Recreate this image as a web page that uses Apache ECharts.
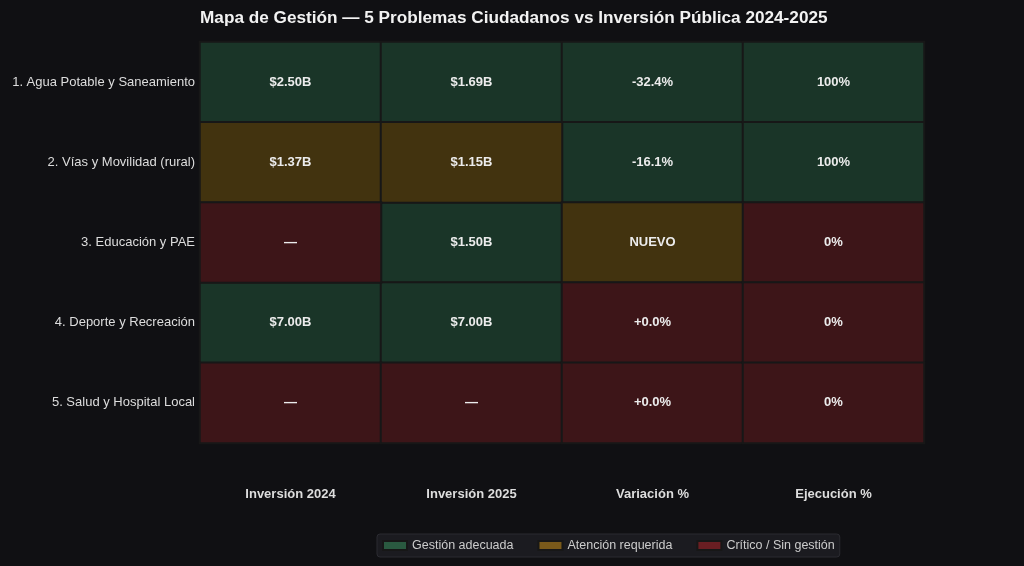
<!DOCTYPE html>
<html>
<head>
<meta charset="utf-8">
<script src="https://cdn.jsdelivr.net/npm/echarts@6/dist/echarts.min.js"></script>
<style>
    html, body { margin: 0; padding: 0; background: #101013; }
    #chart { width: 1024px; height: 566px; }
</style>
</head>
<body>
<div id="chart"></div>
<script>
// filas (problemas) y columnas (indicadores)
var problemas = ['1. Agua Potable y Saneamiento', '2. Vías y Movilidad (rural)', '3. Educación y PAE', '4. Deporte y Recreación', '5. Salud y Hospital Local'];
var columnas = ['Inversión 2024', 'Inversión 2025', 'Variación %', 'Ejecución %'];

// valores por columna (miles de millones / %), null = sin dato
var inversion2024 = [2.50, 1.37, null, 7.00, null];
var inversion2025 = [1.69, 1.15, 1.50, 7.00, null];
var variacion = [-32.4, -16.1, null, 0.0, 0.0];
var ejecucion = [100, 100, 0, 0, 0];

// estado de cada celda: 0 = adecuada, 1 = atención, 2 = crítico
var estado2024 = [0, 1, 2, 0, 2];
var estado2025 = [0, 1, 0, 0, 2];
var estadoVariacion = [0, 0, 1, 2, 2];
var estadoEjecucion = [0, 0, 2, 2, 2];

var estados = ['Gestión adecuada', 'Atención requerida', 'Crítico / Sin gestión'];
var colorCelda = ['#1a3528', '#42330f', '#3d1518'];
var colorLeyenda = ['#2a5a40', '#7a5a1a', '#6a1e22'];

function fmtDinero(v) { return v == null ? '—' : '$' + v.toFixed(2) + 'B'; }
function fmtVariacion(v) { return v == null ? 'NUEVO' : (v >= 0 ? '+' : '') + v.toFixed(1) + '%'; }
function fmtEjecucion(v) { return v + '%'; }

var cols = [
    { vals: inversion2024, est: estado2024, fmt: fmtDinero },
    { vals: inversion2025, est: estado2025, fmt: fmtDinero },
    { vals: variacion, est: estadoVariacion, fmt: fmtVariacion },
    { vals: ejecucion, est: estadoEjecucion, fmt: fmtEjecucion }
];

// una serie heatmap por estado
var series = estados.map(function (nombre, s) {
    var data = [];
    cols.forEach(function (c, x) {
        c.est.forEach(function (e, y) {
            if (e === s) data.push({ value: [x, y, s], label: { formatter: c.fmt(c.vals[y]) } });
        });
    });
    return {
        name: nombre,
        type: 'heatmap',
        data: data,
        itemStyle: { color: colorCelda[s], borderColor: '#171717', borderWidth: 2 },
        label: { show: true, color: '#ececec', fontSize: 13, fontWeight: 'bold', fontFamily: 'Liberation Sans' },
        emphasis: { disabled: true }
    };
});

var myChart = echarts.init(document.getElementById('chart'));
var option = {
    backgroundColor: '#101013',
    animation: false,
    title: {
        text: 'Mapa de Gestión — 5 Problemas Ciudadanos vs Inversión Pública 2024-2025',
        left: 195,
        top: 5,
        textStyle: { color: '#f2f2f2', fontSize: 17.2, fontWeight: 'bold', fontFamily: 'Liberation Sans' }
    },
    grid: { left: 200, right: 100, top: 42, bottom: 123 },
    xAxis: {
        type: 'category',
        data: columnas,
        axisLine: { show: false },
        axisTick: { show: false },
        splitArea: { show: false },
        axisLabel: { color: '#dddddd', fontSize: 13, fontWeight: 'bold', margin: 45, fontFamily: 'Liberation Sans' }
    },
    yAxis: {
        type: 'category',
        data: problemas,
        inverse: true,
        axisLine: { show: false },
        axisTick: { show: false },
        axisLabel: { color: '#dddddd', fontSize: 13, margin: 5, fontFamily: 'Liberation Sans' }
    },
    legend: {
        left: 377,
        bottom: 9,
        itemWidth: 24,
        itemHeight: 9,
        itemGap: 24,
        padding: [5, 5],
        backgroundColor: '#1b1b20',
        borderColor: '#2b2b31',
        borderWidth: 1,
        borderRadius: 3,
        textStyle: { color: '#cccccc', fontSize: 12.5, fontFamily: 'Liberation Sans' },
        data: estados.map(function (n, i) {
            return { name: n, icon: 'rect', itemStyle: { color: colorLeyenda[i] } };
        })
    },
    series: series
};
myChart.setOption(option);
</script>
</body>
</html>
